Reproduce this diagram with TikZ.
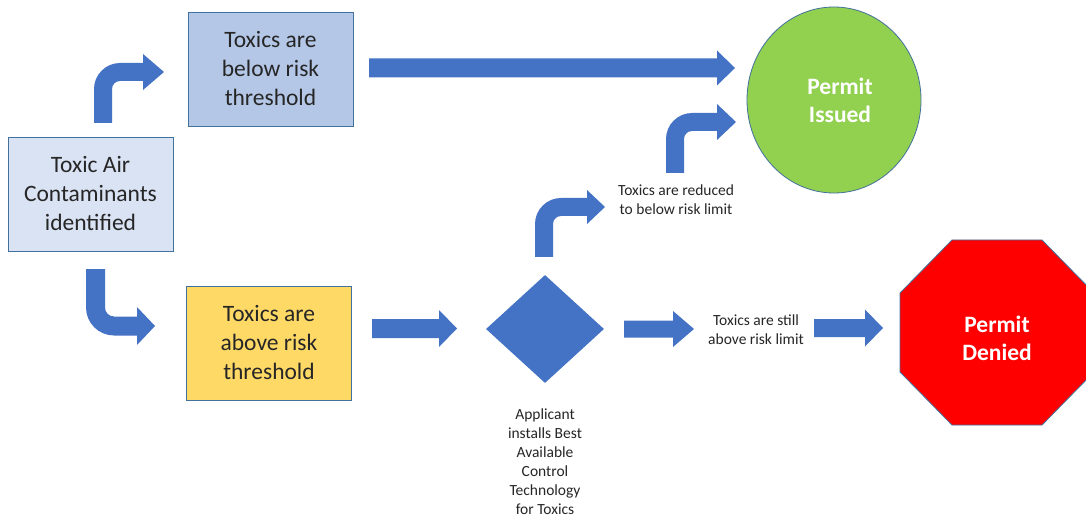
\documentclass[tikz,border=0pt]{standalone}
\usepackage{fontspec}
\setmainfont{Carlito}
\usetikzlibrary{shapes.geometric}
\definecolor{ablue}{HTML}{4472C4}
\definecolor{boxA}{HTML}{DAE3F3}
\definecolor{boxB}{HTML}{B4C7E7}
\definecolor{boxY}{HTML}{FFD966}
\definecolor{okgreen}{HTML}{92D050}
\definecolor{stopred}{HTML}{FF0000}
\definecolor{outl}{HTML}{41719C}
\definecolor{txt}{HTML}{262626}
% straight block arrow: x1 x2 yc shaft-half head-half head-base-x
\newcommand\straightarrow[6]{%
\fill[ablue] (#1,#3-#4) -- (#6,#3-#4) -- (#6,#3-#5) -- (#2,#3) -- (#6,#3+#5) -- (#6,#3+#4) -- (#1,#3+#4) -- cycle;}
% bent arrow up then right: xl w yb yc xh xt hh R
\newcommand\bentup[8]{%
\fill[ablue] (#1,#3) -- (#1,#4-#2/2+#8) .. controls (#1,#4-#2/2+0.45*#8) and (#1+0.45*#8,#4-#2/2) .. (#1+#8,#4-#2/2) -- (#5,#4-#2/2) -- (#5,#4-#7) -- (#6,#4) -- (#5,#4+#7) -- (#5,#4+#2/2) -- (#1+#8,#4+#2/2) .. controls (#1+0.45*#8+0.55*#2,#4+#2/2) and (#1+#2,#4-#2/2+0.45*#8+0.55*#2) .. (#1+#2,#4-#2/2+#8) -- (#1+#2,#3) -- cycle;}
% bent arrow down then right: xl w yt yc xh xt hh R
\newcommand\bentdown[8]{%
\fill[ablue] (#1,#3) -- (#1,#4+#2/2-#8) .. controls (#1,#4+#2/2-0.45*#8) and (#1+0.45*#8,#4+#2/2) .. (#1+#8,#4+#2/2) -- (#5,#4+#2/2) -- (#5,#4+#7) -- (#6,#4) -- (#5,#4-#7) -- (#5,#4-#2/2) -- (#1+#8,#4-#2/2) .. controls (#1+0.45*#8+0.55*#2,#4-#2/2) and (#1+#2,#4+#2/2-0.45*#8-0.55*#2) .. (#1+#2,#4+#2/2-#8) -- (#1+#2,#3) -- cycle;}
\begin{document}
\begin{tikzpicture}[x=1pt,y=-1pt,
  box/.style={draw=outl, line width=0.8pt, minimum width=165pt, minimum height=114pt, inner sep=0pt, align=center, text=txt, font=\fontsize{23.5}{29}\selectfont},
  small/.style={align=center, text=txt, font=\fontsize{15.5}{19.3}\selectfont},
  big/.style={align=center, text=white, font=\bfseries\fontsize{23.5}{28}\selectfont}]
\useasboundingbox (0,0) rectangle (1086,521);
\fill[white] (0,0) rectangle (1086,521);

% boxes
\node[box, fill=boxA] (tac) at (90.5,194) {Toxic Air\\Contaminants\\identified};
\node[box, fill=boxB] (below) at (270.5,69) {Toxics are\\below risk\\threshold};
\node[box, fill=boxY] (above) at (269,343) {Toxics are\\above risk\\threshold};

% permit issued
\node[ellipse, draw=outl, line width=0.8pt, fill=okgreen, minimum width=174pt, minimum height=186pt, inner sep=0pt] (issued) at (834,100) {};
\node[big] (issuedtxt) at (840,100) {Permit\\Issued};

% permit denied (octagon)
\fill[stopred, draw=outl, line width=0.8pt] (952,240) -- (1042,240) -- (1094,293) -- (1094,372) -- (1042,425) -- (952,425) -- (900,372) -- (900,293) -- cycle;
\node[big] (denied) at (997,338) {Permit\\Denied};

% decision diamond
\node[diamond, fill=ablue, minimum width=118pt, minimum height=108pt, inner sep=0pt] (dia) at (545,329) {};
\node[small, font=\fontsize{15.5}{19}\selectfont] (bact) at (545,462) {Applicant\\installs Best\\Available\\Control\\Technology\\for Toxics};

% labels
\node[small] (reduced) at (676,200) {Toxics are reduced\\to below risk limit};
\node[small] (still) at (756,330) {Toxics are still\\above risk limit};

% arrows
\bentup{94}{18}{123}{72}{143}{164}{18}{26}
\bentdown{86}{19}{269}{326}{137}{155}{19}{28}
\straightarrow{369}{735}{68}{9.5}{17.5}{717}
\straightarrow{372}{457}{328.5}{9.5}{18.5}{439}
\straightarrow{624}{694}{329}{8.5}{18}{673}
\straightarrow{814}{883}{328}{9}{18.5}{865}
\bentup{535}{18}{257}{207}{587}{605}{17}{26}
\bentup{666}{18}{173}{122}{717}{736}{18}{26}
\end{tikzpicture}
\end{document}
